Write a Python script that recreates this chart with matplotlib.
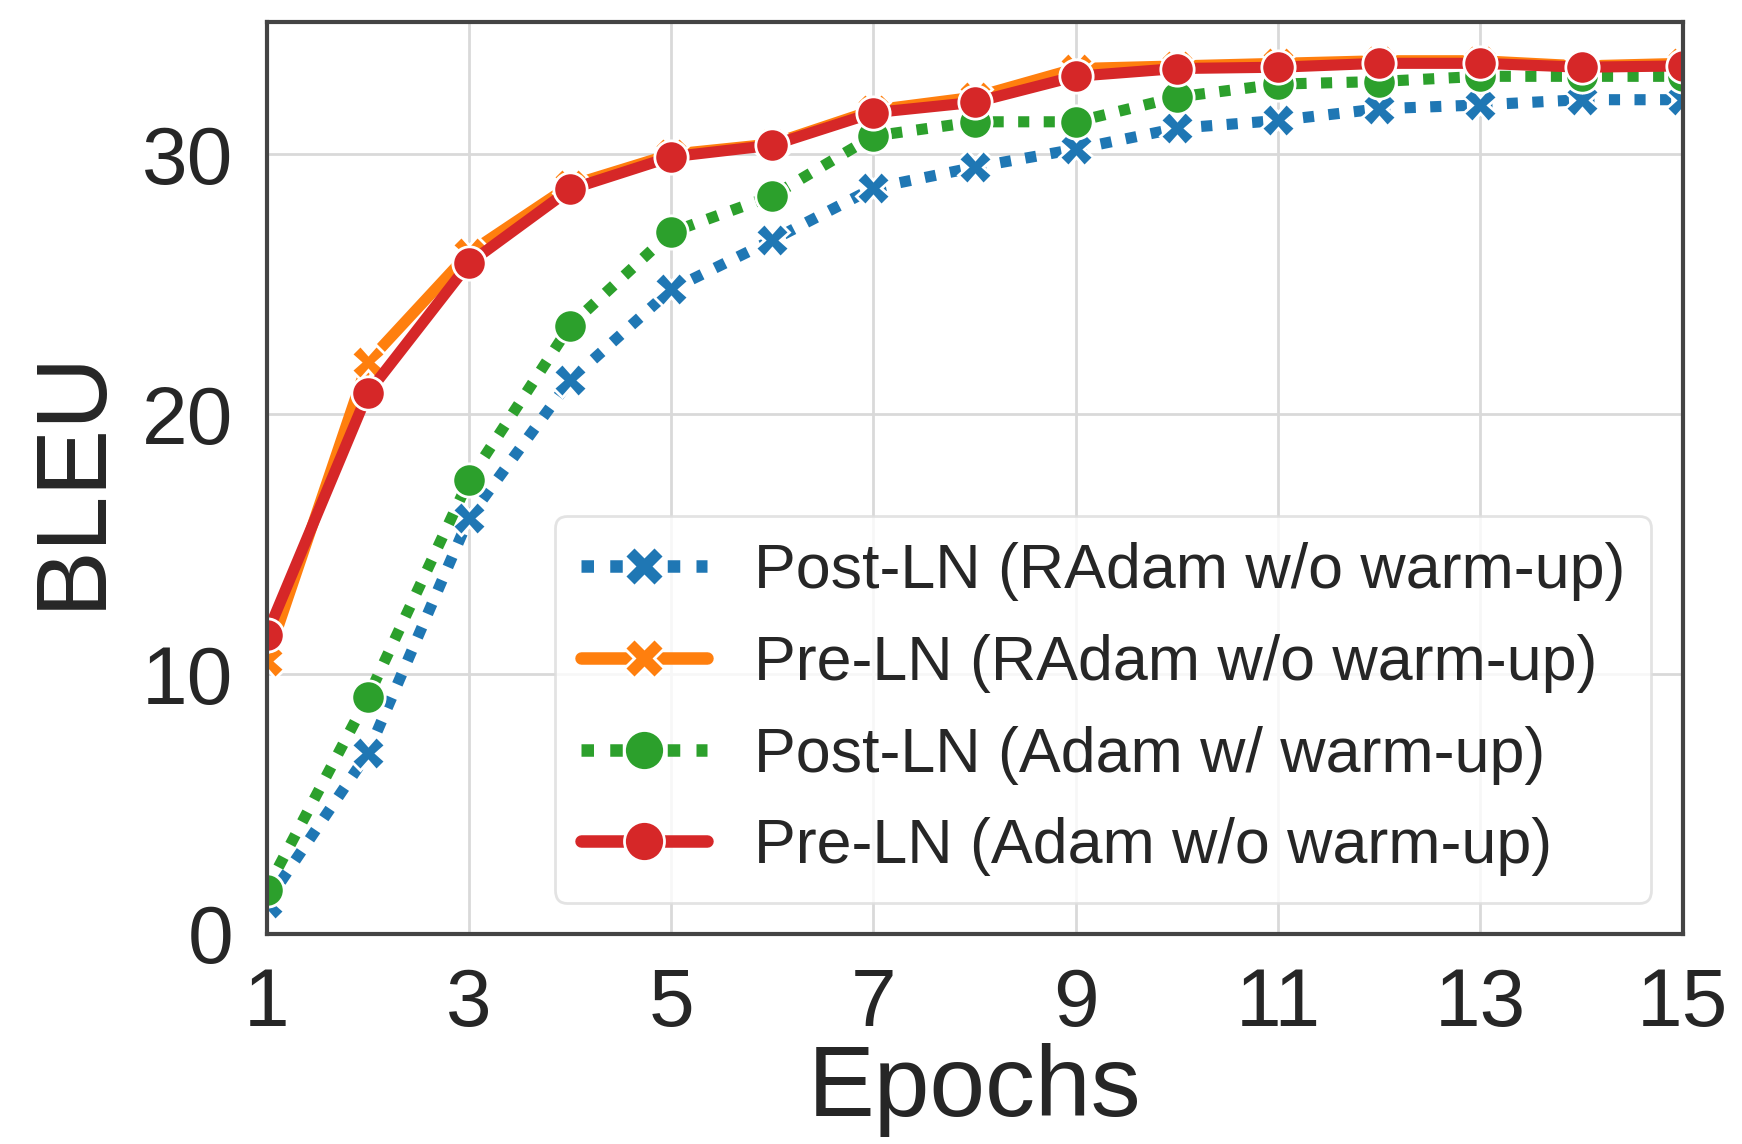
import matplotlib
matplotlib.use("Agg")
import matplotlib.pyplot as plt
import seaborn as sns

sns.set_theme(style="whitegrid")
plt.rcParams['font.family'] = ['Liberation Sans', 'DejaVu Sans']

# BLEU per epoch
epochs = list(range(1, 16))
post_ln_radam = [1.2, 6.95, 16.0, 21.3, 24.8, 26.7, 28.7, 29.5, 30.2, 31.0, 31.3, 31.75, 31.9, 32.1, 32.1]
pre_ln_radam = [10.5, 22.0, 26.2, 28.8, 30.0, 30.4, 31.7, 32.2, 33.3, 33.4, 33.5, 33.6, 33.6, 33.4, 33.5]
post_ln_adam_warm = [1.7, 9.1, 17.45, 23.4, 27.0, 28.4, 30.7, 31.25, 31.25, 32.2, 32.7, 32.8, 33.0, 33.0, 33.0]
pre_ln_adam = [11.5, 20.8, 25.8, 28.65, 29.9, 30.35, 31.6, 32.0, 33.0, 33.3, 33.35, 33.5, 33.5, 33.35, 33.4]

labels = ["Post-LN (RAdam w/o warm-up)", "Pre-LN (RAdam w/o warm-up)",
          "Post-LN (Adam w/ warm-up)", "Pre-LN (Adam w/o warm-up)"]
series = [post_ln_radam, pre_ln_radam, post_ln_adam_warm, pre_ln_adam]
colors = ["#1f77b4", "#ff7f0e", "#2ca02c", "#d62728"]
styles = [(0, (1, 1.3)), "-", (0, (1, 1.3)), "-"]
markers = ["X", "X", "o", "o"]

fig = plt.figure(figsize=(8.71, 5.72), dpi=200)
ax = fig.add_axes([0.153, 0.1836, 0.813, 0.7974])

for ys, lab, c, ls, m in zip(series, labels, colors, styles, markers):
    ax.plot(epochs, ys, color=c, linestyle=ls, linewidth=4, marker=m,
            markersize=12, markeredgecolor="white", markeredgewidth=1.0, label=lab)

ax.set_xlim(1, 15)
ax.set_ylim(0, 35.1)
ax.set_xticks(range(1, 16, 2))
ax.set_yticks([0, 10, 20, 30])
ax.tick_params(labelsize=29.5, colors="#262626", pad=6)
ax.set_xlabel("Epochs", fontsize=36, color="#262626", labelpad=0)
ax.set_ylabel("BLEU", fontsize=36, color="#262626", labelpad=8)
ax.grid(color="#d9d9d9", linewidth=1.0)
for sp in ax.spines.values():
    sp.set_color("#444444")
    sp.set_linewidth(1.5)

leg = ax.legend(loc="lower right", fontsize=22.6, handlelength=2.0, numpoints=1,
                borderaxespad=0.5, labelspacing=0.52, handletextpad=0.75,
                borderpad=0.42, frameon=True, markerscale=1.2)
leg.get_frame().set_edgecolor("#dddddd")
for t in leg.get_texts():
    t.set_color("#262626")
for h in leg.get_lines():
    h.set_linewidth(4.5)

fig.savefig("out.png", dpi=200)
